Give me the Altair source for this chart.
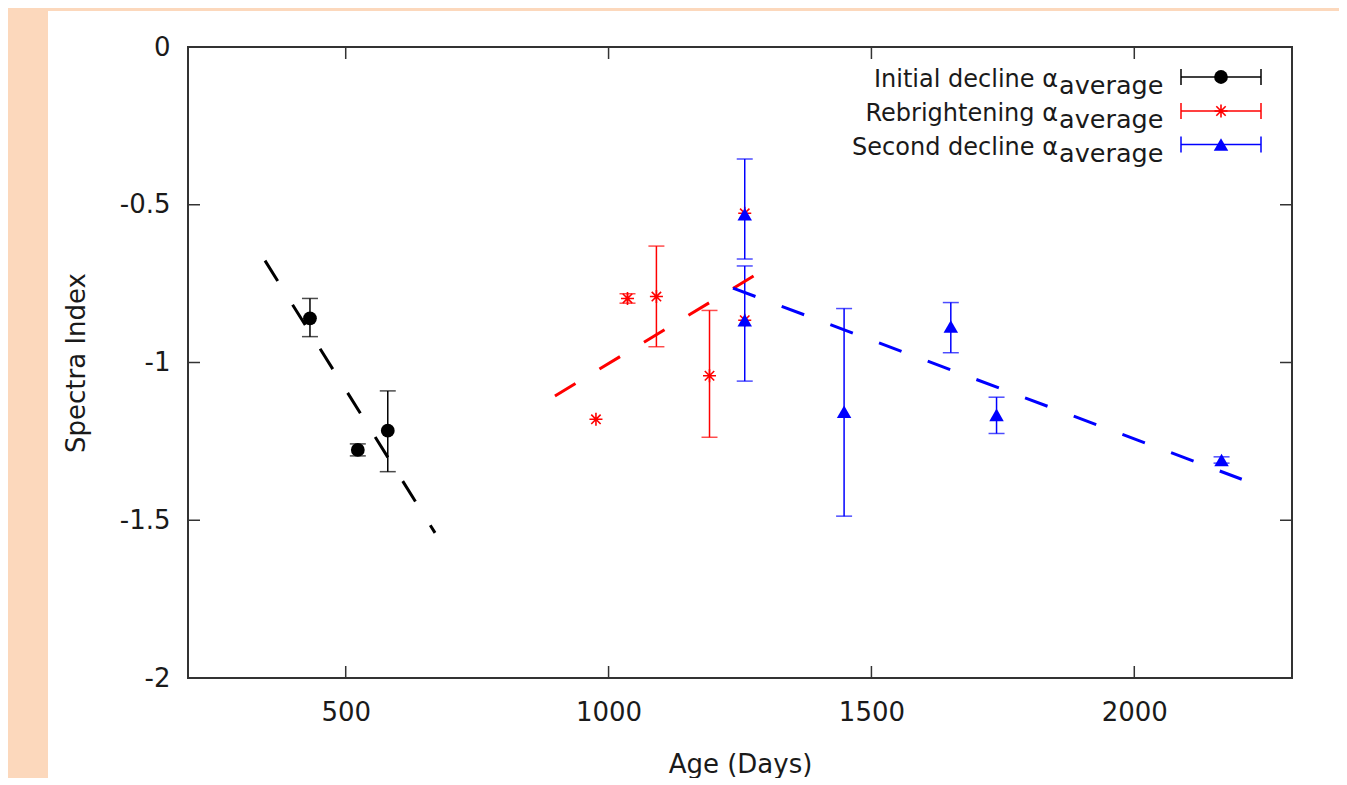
import altair as alt
import pandas as pd

# ---------------- data ----------------
init_x = [432, 523, 580]
init_y = [-0.860, -1.277, -1.216]
init_lo = [-0.918, -1.296, -1.346]
init_hi = [-0.797, -1.258, -1.090]

reb_x = [976, 1036, 1091, 1192, 1259, 1259]
reb_y = [-1.180, -0.797, -0.791, -1.042, -0.527, -0.866]
reb_lo = [None, -0.812, -0.950, -1.237, None, None]
reb_hi = [None, -0.782, -0.631, -0.835, None, None]

sec_x = [1259, 1259, 1448, 1651, 1738, 2166]
sec_y = [-0.530, -0.866, -1.156, -0.886, -1.166, -1.309]
sec_lo = [-0.672, -1.059, -1.487, -0.969, -1.225, -1.319]
sec_hi = [-0.355, -0.694, -0.829, -0.810, -1.110, -1.299]

fit_init_x = [346.5, 669.9]
fit_init_y = [-0.677, -1.540]
fit_reb_x = [898, 1278.6]
fit_reb_y = [-1.106, -0.723]
fit_sec_x = [1236.7, 2204.4]
fit_sec_y = [-0.764, -1.370]

x_ticks = [500, 1000, 1500, 2000]
y_ticks = [0, -0.5, -1, -1.5, -2]

legend_labels = ["Initial decline α", "Rebrightening α", "Second decline α"]
legend_sub = "average"

# ---------------- styling ----------------
W, H = 1104, 631
FONT = "DejaVu Sans"
TXT = "#1a1a1a"
FS = 26
STAR = "M-1,0L1,0M0,-1L0,1M-0.72,-0.72L0.72,0.72M-0.72,0.72L0.72,-0.72"

xs = alt.Scale(domain=[200, 2300], nice=False, zero=False)
ys = alt.Scale(domain=[-2, 0], nice=False, zero=False)

x_axis = alt.Axis(values=x_ticks, ticks=False, domain=False, grid=False,
                  labelFontSize=FS, labelFont=FONT, labelColor=TXT, labelPadding=21,
                  labelExpr="toString(datum.value)",
                  title="Age (Days)", titleFontSize=FS, titleFont=FONT,
                  titleFontWeight="normal", titleColor=TXT, titlePadding=26, zindex=1)
y_axis = alt.Axis(values=y_ticks, ticks=False, domain=False, grid=False,
                  labelFontSize=FS, labelFont=FONT, labelColor=TXT, labelPadding=18,
                  labelExpr="toString(datum.value)",
                  title="Spectra Index", titleFontSize=FS, titleFont=FONT,
                  titleFontWeight="normal", titleColor=TXT, titlePadding=30, zindex=1)


def X(f):
    return alt.X(f, type="quantitative", scale=xs, axis=x_axis)


def Y(f):
    return alt.Y(f, type="quantitative", scale=ys, axis=y_axis)


one = pd.DataFrame({"k": [0]})

panel = alt.Chart(one).mark_rect(fill="white").encode(
    x=alt.value(-140), x2=alt.value(1151), y=alt.value(-36), y2=alt.value(745))
border = alt.Chart(one).mark_rect(fill="transparent", stroke="#333333", strokeWidth=2).encode(
    x=alt.value(0), x2=alt.value(W), y=alt.value(0), y2=alt.value(H))

xt = pd.DataFrame({"v": x_ticks})
yt = pd.DataFrame({"v": y_ticks})
tick_style = dict(color="#333333", strokeWidth=1.5)
ticks = [
    alt.Chart(xt).mark_rule(**tick_style).encode(x=X("v"), y=alt.value(H), y2=alt.value(H - 12)),
    alt.Chart(xt).mark_rule(**tick_style).encode(x=X("v"), y=alt.value(0), y2=alt.value(12)),
    alt.Chart(yt).mark_rule(**tick_style).encode(y=Y("v"), x=alt.value(0), x2=alt.value(12)),
    alt.Chart(yt).mark_rule(**tick_style).encode(y=Y("v"), x=alt.value(W - 12), x2=alt.value(W)),
]


def series_layers(xv, yv, lo, hi, color, point_mark):
    df = pd.DataFrame({"x": xv, "y": yv, "lo": lo, "hi": hi})
    err = df.dropna()
    layers = []
    if len(err):
        layers.append(alt.Chart(err).mark_rule(color=color, strokeWidth=1.5).encode(
            x=X("x"), y=Y("lo"), y2="hi"))
        for f in ("lo", "hi"):
            layers.append(alt.Chart(err).mark_tick(orient="horizontal", color=color,
                                                    size=16, thickness=1.5).encode(
                x=X("x"), y=Y(f)))
    layers.append(alt.Chart(df).mark_point(**point_mark).encode(x=X("x"), y=Y("y")))
    return layers


pm_init = dict(shape="circle", filled=True, size=190, color="black", opacity=1)
pm_reb = dict(shape=STAR, filled=False, size=170, color="red", strokeWidth=1.6, opacity=1)
pm_sec = dict(shape="triangle-up", filled=True, size=210, color="blue", opacity=1)

data_layers = []
data_layers += series_layers(init_x, init_y, init_lo, init_hi, "black", pm_init)
data_layers += series_layers(reb_x, reb_y, reb_lo, reb_hi, "red", pm_reb)
data_layers += series_layers(sec_x, sec_y, sec_lo, sec_hi, "blue", pm_sec)


def fit_layer(xv, yv, color):
    df = pd.DataFrame({"x": xv, "y": yv})
    return alt.Chart(df).mark_line(color=color, strokeWidth=3, strokeDash=[24, 28],
                                   strokeCap="butt").encode(x=X("x"), y=Y("y"))


fits = [fit_layer(fit_init_x, fit_init_y, "black"),
        fit_layer(fit_reb_x, fit_reb_y, "red"),
        fit_layer(fit_sec_x, fit_sec_y, "blue")]

# ---------------- legend (top right, inside plot) ----------------
legend = []
row_centers = [30, 64, 97.5]
colors = ["black", "red", "blue"]
marks = [pm_init, pm_reb, pm_sec]
for lab, cy, col, pm in zip(legend_labels, row_centers, colors, marks):
    legend.append(alt.Chart(one).mark_text(text=lab, align="right", baseline="alphabetic",
                                           fontSize=24, font=FONT, color=TXT).encode(
        x=alt.value(870), y=alt.value(cy + 10)))
    legend.append(alt.Chart(one).mark_text(text=legend_sub, align="left", baseline="alphabetic",
                                           fontSize=25.5, font=FONT, color=TXT).encode(
        x=alt.value(871), y=alt.value(cy + 17)))
    legend.append(alt.Chart(one).mark_rule(color=col, strokeWidth=1.5).encode(
        x=alt.value(993), x2=alt.value(1073), y=alt.value(cy)))
    for xx in (993, 1073):
        legend.append(alt.Chart(one).mark_rule(color=col, strokeWidth=1.5).encode(
            x=alt.value(xx), y=alt.value(cy - 8), y2=alt.value(cy + 8)))
    legend.append(alt.Chart(one).mark_point(**pm).encode(
        x=alt.value(1033), y=alt.value(cy)))

chart = alt.layer(panel, border, *ticks, *data_layers, *fits, *legend).properties(
    width=W, height=H,
    padding={"left": 180, "top": 39, "right": 47, "bottom": 100},
    autosize=alt.AutoSizeParams(type="none"),
).configure(background="#FCD8BC", font=FONT).configure_view(strokeWidth=0)

chart.save("out.html", embed_options={"renderer": "svg", "actions": False})
